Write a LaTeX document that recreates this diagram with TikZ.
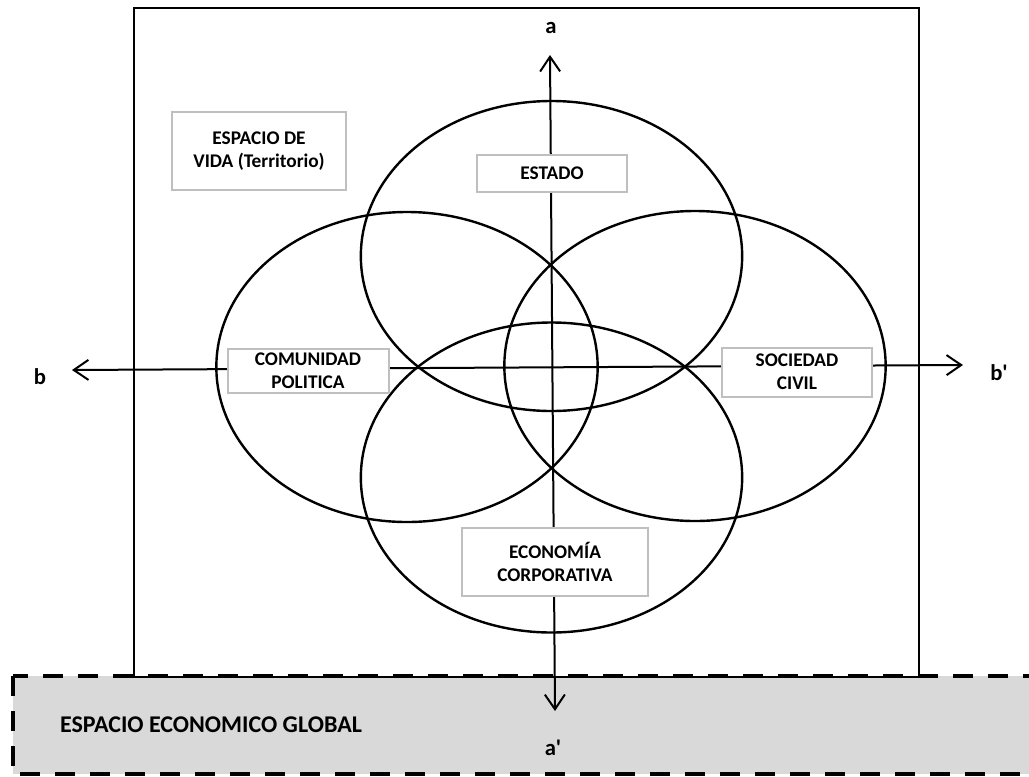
\documentclass[tikz,border=0pt]{standalone}
\usepackage{fontspec}
\setmainfont{Carlito}
\usetikzlibrary{arrows.meta,shapes.geometric}
\definecolor{globalgray}{HTML}{D9D9D9}
\definecolor{boxgray}{HTML}{BFBFBF}
\begin{document}
\begin{tikzpicture}[x=0.75pt,y=-0.75pt,
  lbl/.style={draw=boxgray, line width=1.5pt, fill=white, align=center, inner sep=0pt,
    font=\bfseries\fontsize{14.5}{17.5}\selectfont},
  circ/.style={ellipse, draw, line width=1.8pt, minimum width=286pt, minimum height=232.5pt, inner sep=0pt},
  barb/.tip={Straight Barb[length=11pt,width=15pt,line width=1.5pt]},
  axis/.style={line width=1.5pt},
  axlbl/.style={font=\bfseries\fontsize{17}{20}\selectfont, inner sep=0pt},
  frame/.style={draw, line width=1.6pt},
  globalbox/.style={draw, line width=3pt, dash pattern=on 15pt off 11.25pt, fill=globalgray}
]
\useasboundingbox (0,0) rectangle (1029,776);
\fill[white] (0,0) rectangle (1029,776);
% global economic space
\draw[globalbox] (13,676) rectangle (1060,774);
\node[font=\bfseries\fontsize{18}{21}\selectfont, inner sep=0pt] (global) at (211,725) {ESPACIO ECONOMICO GLOBAL};
% life space frame
\draw[frame] (134,8) rectangle (919,677);
% ellipses
\node[circ] (eEstado) at (551.5,256) {};
\node[circ] (eComunidad) at (407,367) {};
\node[circ] (eSociedad) at (695,366) {};
\node[circ] (eEconomia) at (551.5,477.5) {};
% axes
\coordinate (ta) at (550,55);
\coordinate (ba) at (555,711);
\coordinate (lb) at (72,370);
\coordinate (rb) at (963,365);
\draw[axis, barb-barb] (ba) -- (ta);
\draw[axis, barb-barb] (lb) -- (rb);
\node[axlbl] (la) at (551,28) {a};
\node[axlbl] (lap) at (553,748) {a\textquotesingle};
\node[axlbl] (lbl-b) at (40,377) {b};
\node[axlbl] (lbp) at (999,373) {b\textquotesingle};
% label boxes
\node[lbl, minimum width=130.5pt, minimum height=59pt] (vida) at (259,151) {ESPACIO DE\\VIDA (Territorio)};
\node[lbl, minimum width=112.5pt, minimum height=27.75pt] (estado) at (552,173) {ESTADO};
\node[lbl, minimum width=120.75pt, minimum height=33pt] (comunidad) at (308,371) {COMUNIDAD\\POLITICA};
\node[lbl, minimum width=112.5pt, minimum height=36.75pt] (sociedad) at (797,372) {SOCIEDAD\\CIVIL};
\node[lbl, minimum width=139.5pt, minimum height=51pt] (economia) at (555,562) {ECONOMÍA\\CORPORATIVA};
\end{tikzpicture}
\end{document}
